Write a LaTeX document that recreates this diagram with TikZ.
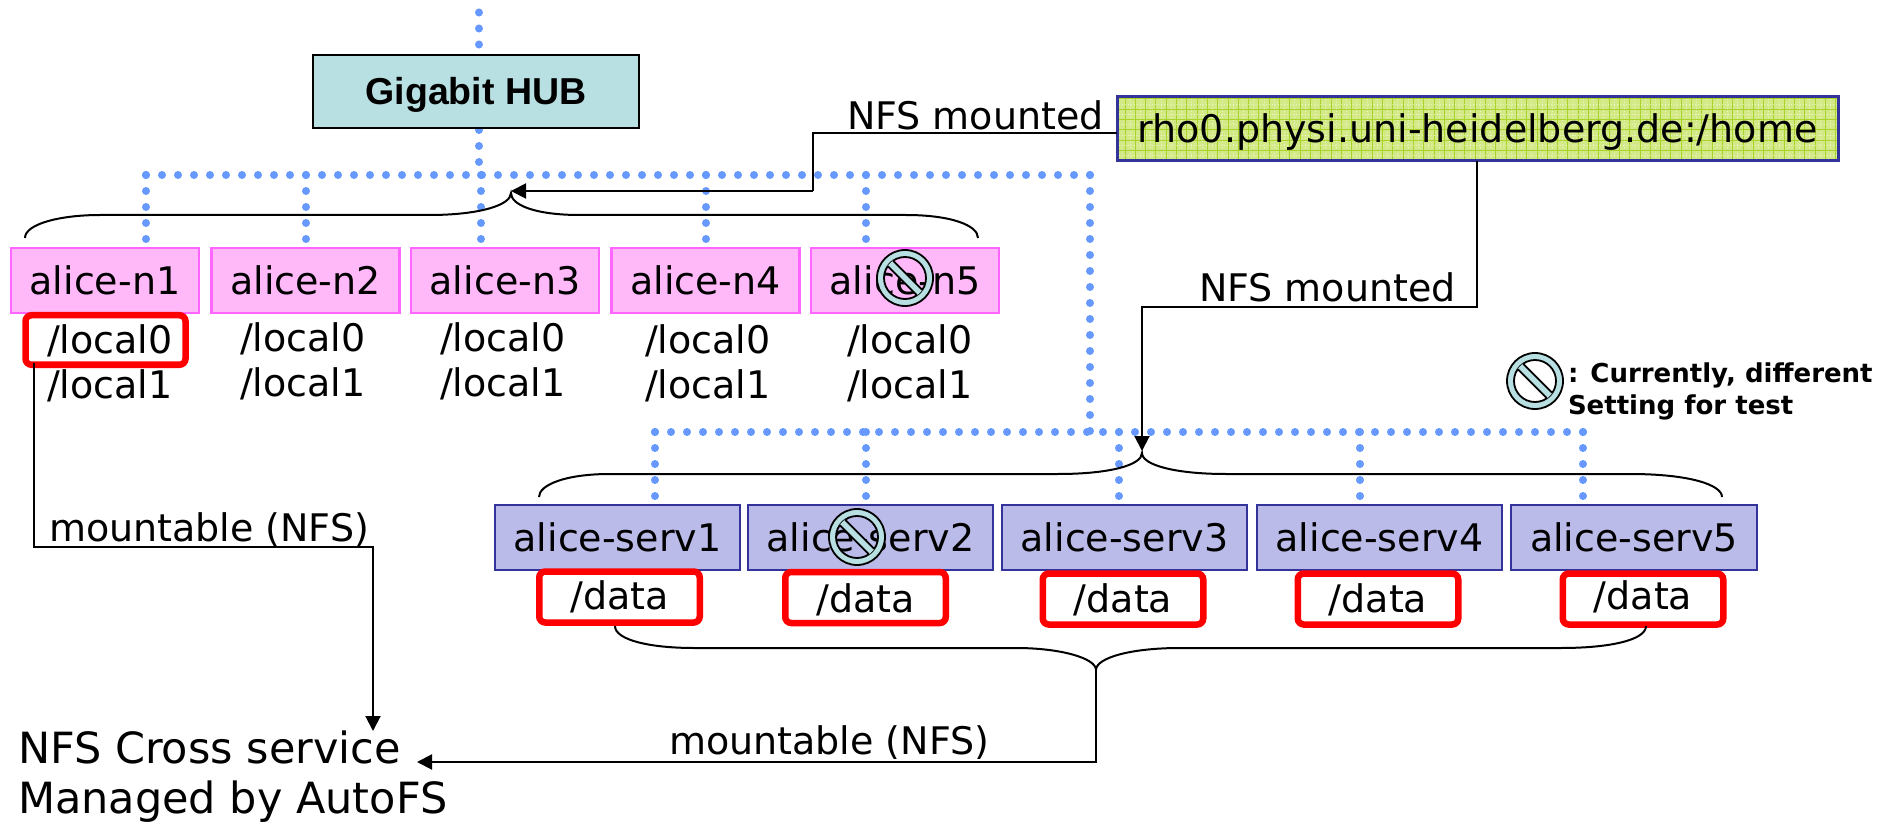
\documentclass[tikz,border=0pt]{standalone}
\usepackage{fontspec}
\setmainfont{DejaVu Sans}
\newfontfamily\hubfont{Liberation Sans}
\usetikzlibrary{arrows.meta}
\definecolor{dotblue}{HTML}{6699FF}
\definecolor{hubfill}{HTML}{B8DFE2}
\definecolor{pinkfill}{HTML}{FFB9F9}
\definecolor{pinkline}{HTML}{FF66FF}
\definecolor{servfill}{HTML}{BBBBE9}
\definecolor{navy}{HTML}{333399}
\definecolor{gridbg}{HTML}{D2E985}
\definecolor{gridline}{HTML}{A9D22A}
\definecolor{redbox}{HTML}{FF0000}
\tikzset{
  dots/.style={draw=dotblue,line width=8pt,line cap=round,dash pattern=on 0.01pt off 15.99pt},
  conn/.style={draw=black,line width=2pt},
  arrowed/.style={conn,-{Triangle[length=15pt,width=15pt]}},
  brace/.style={draw=black,line width=2pt},
  boxbase/.style={inner sep=0pt,outer sep=0pt,font=\fontsize{38}{38}\selectfont,text depth=0pt},
  pinkbox/.style={boxbase,draw=pinkline,fill=pinkfill,line width=2.5pt,minimum width=188pt,minimum height=65pt,text height=29pt},
  servbox/.style={boxbase,draw=navy,fill=servfill,line width=2pt,minimum width=245.5pt,minimum height=65.5pt,text height=27pt},
  hubbox/.style={boxbase,draw=black,fill=hubfill,line width=2.5pt,minimum width=326pt,minimum height=73pt,text height=27pt,font=\hubfont\bfseries\fontsize{37.5}{37.5}\selectfont},
  rhobox/.style={boxbase,draw=navy,line width=3pt,minimum width=721pt,minimum height=64pt,text height=28pt},
  redframe/.style={boxbase,draw=redbox,line width=6.5pt,rounded corners=6pt,minimum width=160.5pt,minimum height=51pt},
  lab/.style={inner sep=0pt,outer sep=0pt,anchor=base west,font=\fontsize{38}{38}\selectfont},
  biglab/.style={lab,font=\fontsize{43}{43}\selectfont},
  legend/.style={inner sep=0pt,outer sep=0pt,anchor=base west,font=\bfseries\fontsize{26}{26}\selectfont},
  markspot/.style={circle,inner sep=0pt,outer sep=0pt,minimum size=56pt},
  gridmajor/.style={gridline,line width=1pt},
  gridminor/.style={white,opacity=.55,line width=1pt,dash pattern=on 1pt off 2pt},
}
\newcommand{\noentry}[3]{%
  \node[markspot] (#1) at (#2,#3) {};
  \fill[hubfill,even odd rule,draw=black,line width=1.8pt] (#1.center) circle (28pt) (#1.center) circle (21pt);
  \begin{scope}[shift={(#1.center)},rotate=-45]
    \fill[hubfill] (-21,-3.8) rectangle (21,3.8);
    \draw[black,line width=1.8pt] (-20.6,-3.8) -- (20.6,-3.8) (-20.6,3.8) -- (20.6,3.8);
  \end{scope}}
\begin{document}
\begin{tikzpicture}[x=1pt,y=-1pt]
\useasboundingbox (0,0) rectangle (1896,826);
% coordinates of the network
\coordinate (top) at (479,12.5);
\coordinate (hubtop) at (479,46);
\coordinate (hubbot) at (479,130);
\coordinate (busHub) at (479,175);
\coordinate (busL) at (146,175);
\coordinate (busR) at (1090,175);
\coordinate (busLL) at (655,432);
\coordinate (busLR) at (1585,432);
\coordinate (busLM) at (1090,432);
\foreach \nm/\x in {a/146,b/306,c/481,d/706,e/866}{
  \coordinate (up\nm) at (\x,175);
  \coordinate (dn\nm) at (\x,240);
  \draw[dots] (up\nm) -- (dn\nm);
}
\foreach \nm/\x in {a/655,b/866,c/1119,d/1360,e/1583}{
  \coordinate (lup\nm) at (\x,432);
  \coordinate (ldn\nm) at (\x,497);
  \draw[dots] (lup\nm) -- (ldn\nm);
}
\draw[dots] (top) -- (hubtop);
\draw[dots] (hubbot) -- (busHub);
\draw[dots] (busL) -- (busR);
\draw[dots] (busR) -- (busLM);
\draw[dots] (busLL) -- (busLR);

% boxes
\node[hubbox] (hub) at (476,91.5) {Gigabit HUB};
\begin{scope}
  \clip (1117,97) rectangle (1838,161);
  \fill[gridbg] (1117,97) rectangle (1838,161);
  \foreach \i in {0,...,70}{
    \draw[gridmajor] (1125+\i*10.3,90) -- (1125+\i*10.3,170);
    \draw[gridminor] (1130.15+\i*10.3,90) -- (1130.15+\i*10.3,170);
  }
  \foreach \i in {0,...,6}{
    \draw[gridmajor] (1110,99+\i*10.3) -- (1845,99+\i*10.3);
    \draw[gridminor] (1110,104.15+\i*10.3) -- (1845,104.15+\i*10.3);
  }
\end{scope}
\node[rhobox] (rho) at (1477.5,129) {rho0.physi.uni-heidelberg.de:/home};
\node[pinkbox] (n1) at (105,280.5) {alice-n1};
\node[pinkbox] (n2) at (305.5,280.5) {alice-n2};
\node[pinkbox] (n3) at (505,280.5) {alice-n3};
\node[pinkbox] (n4) at (705.5,280.5) {alice-n4};
\node[pinkbox] (n5) at (905,280.5) {alice-n5};
\node[servbox] (s1) at (617.5,537.5) {alice-serv1};
\node[servbox] (s2) at (870.5,537.5) {alice-serv2};
\node[servbox] (s3) at (1124.5,537.5) {alice-serv3};
\node[servbox] (s4) at (1379.5,537.5) {alice-serv4};
\node[servbox] (s5) at (1634,537.5) {alice-serv5};

% storage labels
\node[lab] (l1a) at (47,354) {/local0};
\node[lab] (l1b) at (47,398) {/local1};
\node[lab] (l2a) at (240,352) {/local0};
\node[lab] (l2b) at (240,396) {/local1};
\node[lab] (l3a) at (440,352) {/local0};
\node[lab] (l3b) at (440,396) {/local1};
\node[lab] (l4a) at (645,354) {/local0};
\node[lab] (l4b) at (645,398) {/local1};
\node[lab] (l5a) at (847,354) {/local0};
\node[lab] (l5b) at (847,398) {/local1};
\node[redframe,minimum width=160pt,minimum height=49.5pt] (r0) at (105.5,340) {};
\node[redframe,text height=24pt] (d1) at (619.5,597) {/data};
\node[redframe,text height=29pt] (d2) at (865.5,597.5) {/data};
\node[redframe,text height=26pt] (d3) at (1123,599) {/data};
\node[redframe,text height=26pt] (d4) at (1378,599) {/data};
\node[redframe,text height=20pt] (d5) at (1643,599) {/data};

% text labels
\node[lab] (nfsa) at (847,130) {NFS mounted};
\node[lab] (nfsb) at (1199,302) {NFS mounted};
\node[lab] (mnta) at (49,541) {mountable (NFS)};
\node[lab] (mntb) at (669,754) {mountable (NFS)};
\node[biglab] (cross) at (18,763) {NFS Cross service};
\node[biglab] (auto) at (18,813) {Managed by AutoFS};
\node[legend] (lega) at (1568,382) {: Currently, different};
\node[legend] (legb) at (1568,414) {Setting for test};

% connector way points
\coordinate (tipU) at (511,191);
\coordinate (jogU) at (813,133);
\coordinate (jogUb) at (813,191);
\coordinate (rhoL) at (rho.west |- jogU);
\coordinate (rhoD) at (1477,307);
\coordinate (jogD) at (1142,307);
\coordinate (tipD) at (1142,451);
\coordinate (crA) at (34,363);
\coordinate (crB) at (34,547);
\coordinate (crC) at (373,547);
\coordinate (crD) at (373,731);
\coordinate (dbTip) at (1096,670);
\coordinate (dbBot) at (1096,762);
\coordinate (crE) at (417,762);

% connectors
\draw[conn] (rhoL) -- (jogU) -- (jogUb);
\draw[arrowed] (jogUb) -- (tipU);
\draw[arrowed] (rho.south -| rhoD) -- (rhoD) -- (jogD) -- (tipD);
\draw[arrowed] (crA) -- (crB) -- (crC) -- (crD);
\draw[arrowed] (dbTip) -- (dbBot) -- (crE);

% braces
\coordinate (bu0) at (25,238);
\coordinate (bu1) at (100,215);
\coordinate (bu2) at (429,215);
\coordinate (but) at (511,193);
\coordinate (bu3) at (580,215);
\coordinate (bu4) at (906,215);
\coordinate (bu5) at (978,238);
\draw[brace] (bu0) .. controls (25,224) and (60,215) .. (bu1) -- (bu2) .. controls (480,215) and (511,205) .. (but)
  .. controls (511,205) and (535,215) .. (bu3) -- (bu4) .. controls (950,215) and (978,225) .. (bu5);
\coordinate (bl0) at (539,497);
\coordinate (bl1) at (610,474);
\coordinate (bl2) at (1058,474);
\coordinate (blt) at (1142,453);
\coordinate (bl3) at (1226,474);
\coordinate (bl4) at (1630,474);
\coordinate (bl5) at (1722,497);
\draw[brace] (bl0) .. controls (539,485) and (565,474) .. (bl1) -- (bl2) .. controls (1110,474) and (1142,465) .. (blt)
  .. controls (1142,465) and (1175,474) .. (bl3) -- (bl4) .. controls (1690,474) and (1722,485) .. (bl5);
\coordinate (bd0) at (615,626);
\coordinate (bd1) at (694,648);
\coordinate (bd2) at (1016,648);
\coordinate (bd3) at (1180,648);
\coordinate (bd4) at (1561,648);
\coordinate (bd5) at (1646,626);
\draw[brace] (bd0) .. controls (615,640) and (650,648) .. (bd1) -- (bd2) .. controls (1060,648) and (1096,658) .. (dbTip)
  .. controls (1096,658) and (1130,648) .. (bd3) -- (bd4) .. controls (1610,648) and (1646,640) .. (bd5);

% no-entry marks
\noentry{noa}{905}{278}
\noentry{nob}{857}{537}
\noentry{noc}{1535}{381}
\end{tikzpicture}
\end{document}
